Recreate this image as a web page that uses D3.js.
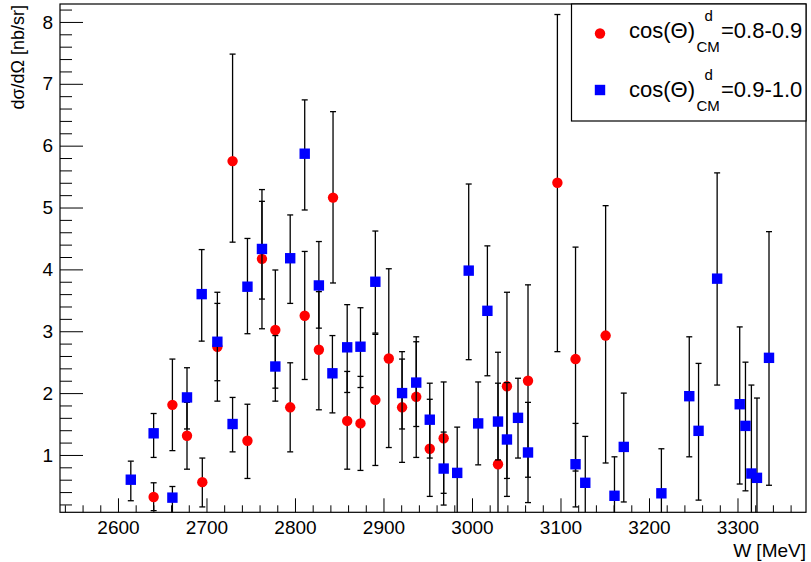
<!DOCTYPE html>
<html><head><meta charset="utf-8">
<script src="https://cdn.jsdelivr.net/npm/d3@7"></script>
<style>body{margin:0;background:#fff}svg{display:block}text{font-family:"Liberation Sans",Arial,Helvetica,sans-serif}</style>
</head><body>
<script>
// ---- data ----
const redW  = [2640.3,2661.5,2678,2695.3,2712.3,2729.5,2746.3,2762.7,2777.8,2794.6,2811,2827,2843,2859,2874,2890.8,2906,2921,2937,2952.3,2968,3029.4,3039.5,3063.3,3096.5,3117,3151];
const redV  = [0.32,1.81,1.31,0.56,2.75,5.75,1.23,4.17,3.02,1.77,3.25,2.70,5.16,1.55,1.51,1.89,2.56,1.77,1.94,1.10,1.27,0.85,2.11,2.20,5.40,2.55,2.93];
const redHi = [0.55,2.55,1.85,0.95,3.63,7.48,1.82,5.29,3.99,2.49,4.29,3.64,6.55,2.35,2.27,2.95,4.01,2.67,2.83,1.90,2.18,2.66,3.63,3.75,8.12,4.36,5.03];
const redLo = [0.10,1.07,0.77,0.16,1.87,4.44,0.62,3.04,2.08,1.05,2.22,1.73,3.78,0.77,0.75,0.83,1.12,0.88,0.96,0.33,0.38,-0.9,0.62,0.64,2.67,0.74,0.87];

const bluW  = [2614.5,2640.3,2661.5,2678,2694.6,2712.3,2729.5,2746.3,2762.7,2777.8,2794.6,2811,2827,2842.3,2859,2874,2890.8,2921,2937,2952.3,2968,2983.3,2996.3,3007,3017.4,3029.4,3039.5,3052,3063.3,3117,3128,3161,3171.5,3214,3245.5,3256,3277,3302.5,3309,3315.7,3322,3335.6];
const bluV  = [0.60,1.35,0.31,1.93,3.60,2.83,1.50,3.72,4.33,2.43,4.18,5.87,3.74,2.32,2.74,2.75,3.80,2.00,2.17,1.57,0.78,0.71,3.98,1.51,3.33,1.54,1.25,1.60,1.04,0.85,0.55,0.34,1.13,0.38,1.95,1.39,3.85,1.82,1.47,0.70,0.63,2.57];
const bluHi = [0.90,1.67,0.49,2.41,4.32,3.45,1.93,4.50,5.10,2.93,4.88,6.74,4.45,2.93,3.43,3.38,4.62,2.55,2.91,2.16,1.37,1.45,5.38,2.18,4.38,2.16,2.17,2.24,1.85,1.51,1.30,0.97,2.00,1.10,2.91,2.48,5.56,3.07,2.50,2.13,1.92,4.61];
const bluLo = [0.26,0.96,-0.2,1.42,2.84,2.20,1.05,2.96,3.52,1.87,3.45,4.96,3.05,1.68,2.01,2.09,2.97,1.42,1.46,0.95,0.19,-0.1,2.54,0.84,2.28,0.92,0.33,0.95,0.23,0.16,-0.2,-0.3,0.24,-0.3,0.97,0.27,2.13,0.53,0.42,-0.7,-0.6,0.51];

const xMajor = [2600,2700,2800,2900,3000,3100,3200,3300];
const yMajor = [1,2,3,4,5,6,7,8];
const legendLabels = ["=0.8-0.9","=0.9-1.0"];

// ---- layout ----
const Wd = 811, Ht = 562;
const L = 60, R = 806, T = 4, B = 512.3;
const x = d3.scaleLinear().domain([2534.5, 3377.4]).range([L, R]);
const y = d3.scaleLinear().domain([0.073, 8.29]).range([B, T]);

const svg = d3.select("body").append("svg").attr("width", Wd).attr("height", Ht);

// minor ticks
const xMinor = d3.range(2540, 3377, 20).filter(v => v % 100 !== 0);
const yMinor = d3.range(0.2, 8.29, 0.2).map(v => +v.toFixed(1)).filter(v => Math.abs(v - Math.round(v)) > 1e-6);

const gx = svg.append("g").attr("transform", `translate(0,${B})`);
gx.call(d3.axisBottom(x).tickValues(xMinor).tickSize(-7).tickSizeOuter(0).tickFormat(""));
gx.append("g").call(d3.axisBottom(x).tickValues(xMajor).tickSize(-14).tickSizeOuter(0).tickPadding(8).tickFormat(d3.format("d")));
gx.selectAll("text").attr("font-size", 19).attr("fill", "#000").attr("font-family", '"Liberation Sans",Arial,sans-serif');

const gy = svg.append("g").attr("transform", `translate(${L},0)`);
gy.call(d3.axisLeft(y).tickValues(yMinor).tickSize(-12).tickSizeOuter(0).tickFormat(""));
gy.append("g").call(d3.axisLeft(y).tickValues(yMajor).tickSize(-23).tickSizeOuter(0).tickPadding(7).tickFormat(d3.format("d")));
gy.selectAll("text").attr("font-size", 19).attr("fill", "#000").attr("font-family", '"Liberation Sans",Arial,sans-serif');
svg.selectAll(".domain").remove();
svg.selectAll(".tick line").attr("stroke", "#000").attr("stroke-width", 1);

// frame
svg.append("rect").attr("x", L).attr("y", T).attr("width", R - L).attr("height", B - T)
  .attr("fill", "none").attr("stroke", "#000").attr("stroke-width", 1.2);

// axis titles
svg.append("text").attr("x", R).attr("y", 557).attr("text-anchor", "end").attr("font-size", 19).text("W [MeV]");
svg.append("text").attr("transform", `translate(24,5) rotate(-90)`).attr("text-anchor", "end").attr("font-size", 18).text("dσ/dΩ [nb/sr]");

// series
function drawSeries(Ws, Vs, His, Los, color, shape) {
  const g = svg.append("g");
  const cap = 3;
  Ws.forEach((w, i) => {
    const px = x(w);
    const hi = Math.min(His[i], y.domain()[1]);
    const lo = Math.max(Los[i], y.domain()[0]);
    g.append("line").attr("x1", px).attr("x2", px).attr("y1", y(hi)).attr("y2", y(lo))
      .attr("stroke", "#000").attr("stroke-width", 1.3);
    if (His[i] <= y.domain()[1])
      g.append("line").attr("x1", px - cap).attr("x2", px + cap).attr("y1", y(hi)).attr("y2", y(hi)).attr("stroke", "#000").attr("stroke-width", 1.3);
    if (Los[i] >= y.domain()[0])
      g.append("line").attr("x1", px - cap).attr("x2", px + cap).attr("y1", y(lo)).attr("y2", y(lo)).attr("stroke", "#000").attr("stroke-width", 1.3);
  });
  Ws.forEach((w, i) => {
    if (shape === "circle")
      g.append("circle").attr("cx", x(w)).attr("cy", y(Vs[i])).attr("r", 5.2).attr("fill", color);
    else
      g.append("rect").attr("x", x(w) - 5.2).attr("y", y(Vs[i]) - 5.2).attr("width", 10.4).attr("height", 10.4).attr("fill", color);
  });
}
drawSeries(redW, redV, redHi, redLo, "#ff0000", "circle");
drawSeries(bluW, bluV, bluHi, bluLo, "#0000ff", "rect");

// legend
const lg = svg.append("g");
lg.append("rect").attr("x", 571.5).attr("y", T).attr("width", R - 571.5).attr("height", 117)
  .attr("fill", "#fff").attr("stroke", "#000").attr("stroke-width", 1.2);
lg.append("circle").attr("cx", 600).attr("cy", 33.5).attr("r", 5.2).attr("fill", "#ff0000");
lg.append("rect").attr("x", 600 - 5.2).attr("y", 90 - 5.2).attr("width", 10.4).attr("height", 10.4).attr("fill", "#0000ff");
[[38, 0], [96.5, 1]].forEach(([by, k]) => {
  lg.append("text").attr("x", 629).attr("y", by).attr("font-size", 22).text("cos(Θ)");
  lg.append("text").attr("x", 704.5).attr("y", by - 17).attr("font-size", 15).text("d");
  lg.append("text").attr("x", 696.5).attr("y", by + 14).attr("font-size", 15).text("CM");
  lg.append("text").attr("x", 721).attr("y", by).attr("font-size", 22).text(legendLabels[k]);
});
</script>
</body></html>
